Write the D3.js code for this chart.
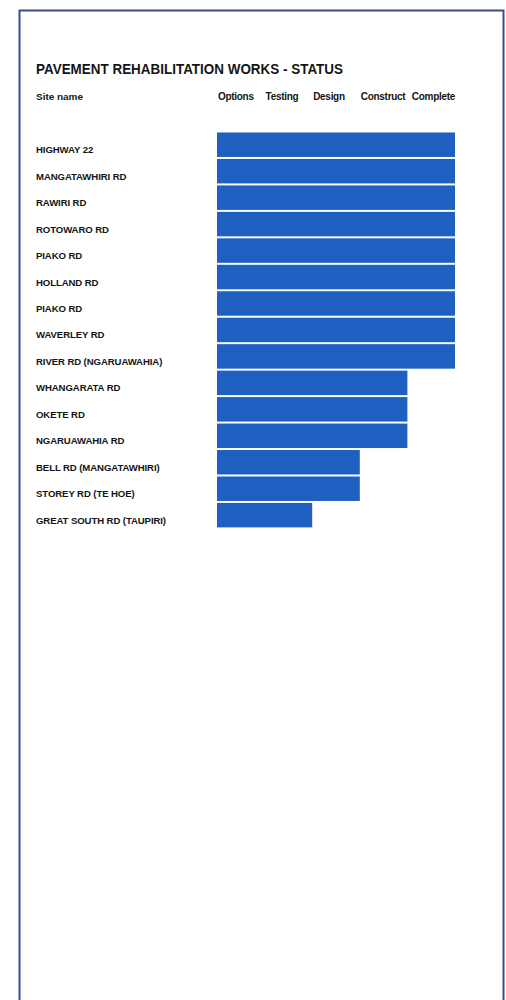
<!DOCTYPE html>
<html>
<head>
<meta charset="utf-8">
<script src="https://cdn.jsdelivr.net/npm/d3@7"></script>
<style>
  html, body { margin: 0; padding: 0; background: #ffffff; }
  svg { display: block; }
  text { font-family: "Liberation Sans", Arial, sans-serif; font-weight: bold; fill: #151515; }
</style>
</head>
<body>
<script>
const title = "PAVEMENT REHABILITATION WORKS - STATUS";
const siteHeader = "Site name";
const stages = ["Options", "Testing", "Design", "Construct", "Complete"];
const sites = [
  "HIGHWAY 22",
  "MANGATAWHIRI RD",
  "RAWIRI RD",
  "ROTOWARO RD",
  "PIAKO RD",
  "HOLLAND RD",
  "PIAKO RD ",
  "WAVERLEY RD",
  "RIVER RD (NGARUAWAHIA)",
  "WHANGARATA RD",
  "OKETE RD",
  "NGARUAWAHIA RD",
  "BELL RD (MANGATAWHIRI)",
  "STOREY RD (TE HOE)",
  "GREAT SOUTH RD (TAUPIRI)"
];
// number of stages reached (1 = Options ... 5 = Complete)
const progress = [5, 5, 5, 5, 5, 5, 5, 5, 5, 4, 4, 4, 3, 3, 2];

const W = 506, H = 1000;
const svg = d3.select("body").append("svg").attr("width", W).attr("height", H);

// frame
svg.append("rect")
  .attr("x", 19.5).attr("y", 10.5)
  .attr("width", 484).attr("height", 995)
  .attr("fill", "#ffffff")
  .attr("stroke", "#3d4c85")
  .attr("stroke-width", 2);

const x = d3.scaleLinear().domain([0, stages.length]).range([217, 455]);
const y = d3.scaleBand().domain(d3.range(sites.length))
  .range([131.5, 131.5 + sites.length * 26.46])
  .paddingInner(0.075).paddingOuter(0.0375);

// title
svg.append("text")
  .attr("x", 36).attr("y", 74)
  .attr("font-size", 14)
  .attr("textLength", 307).attr("lengthAdjust", "spacingAndGlyphs")
  .text(title);

// column headers
svg.append("text")
  .attr("x", 36).attr("y", 100)
  .attr("font-size", 9.5)
  .attr("textLength", 47).attr("lengthAdjust", "spacingAndGlyphs")
  .text(siteHeader);

svg.selectAll("text.stage").data(stages).join("text")
  .attr("class", "stage")
  .attr("x", (d, i) => i === stages.length - 1 ? x(i + 1) : x(i) + 1)
  .attr("text-anchor", (d, i) => i === stages.length - 1 ? "end" : "start")
  .attr("y", 100)
  .attr("font-size", 10)
  .attr("letter-spacing", -0.3)
  .text(d => d);

// bars
svg.selectAll("rect.bar").data(progress).join("rect")
  .attr("class", "bar")
  .attr("x", x(0))
  .attr("y", (d, i) => y(i))
  .attr("width", d => x(d) - x(0))
  .attr("height", y.bandwidth())
  .attr("fill", "#1f5fc2");

// site labels
svg.selectAll("text.site").data(sites).join("text")
  .attr("class", "site")
  .attr("x", 36)
  .attr("y", (d, i) => y(i) + y.bandwidth() / 2 + 8.5)
  .attr("font-size", 9.6)
  .attr("letter-spacing", -0.1)
  .text(d => d.trim());
</script>
</body>
</html>
